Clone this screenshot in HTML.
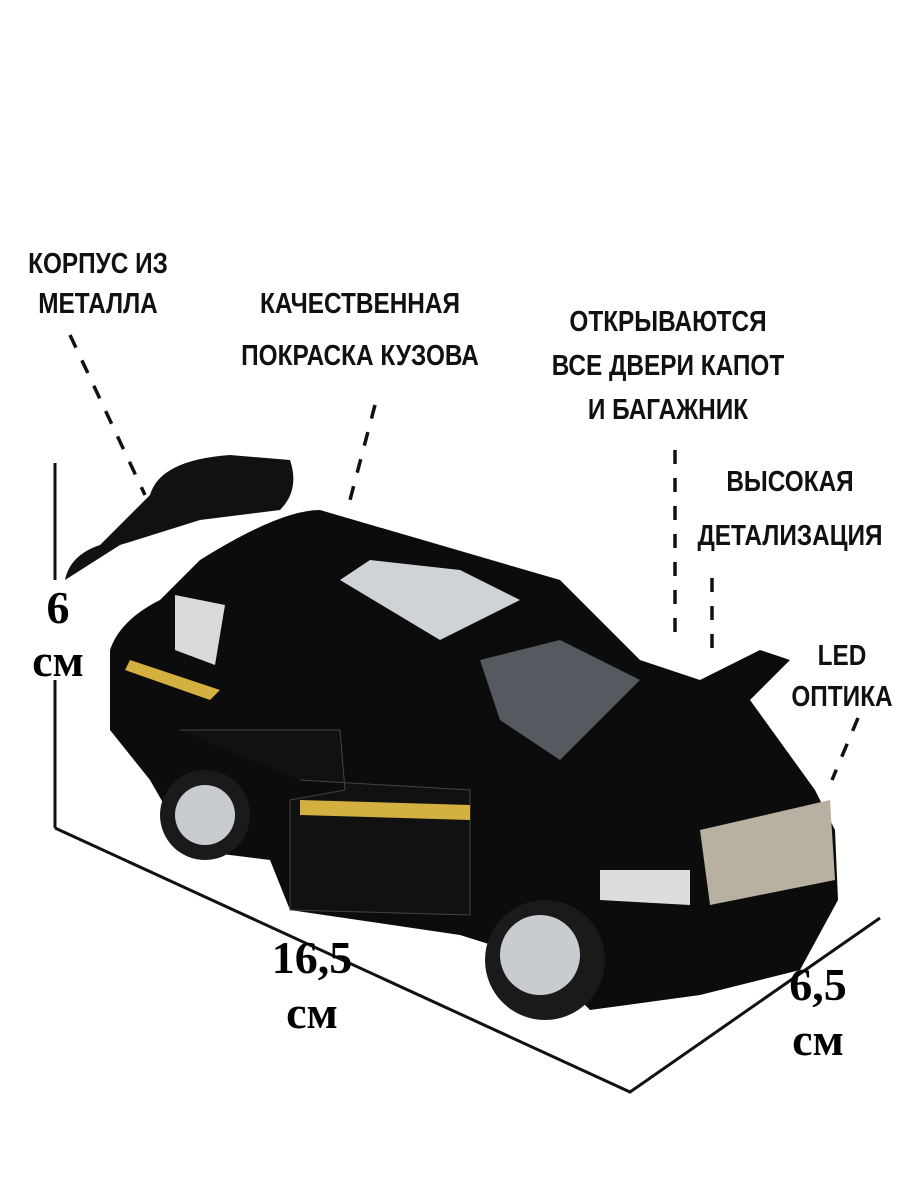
<!DOCTYPE html>
<html><head><meta charset="utf-8"><style>
body{margin:0;background:#fff;width:900px;height:1200px;overflow:hidden;position:relative}
.l{position:absolute;font-family:"Liberation Sans Narrow","Liberation Sans",sans-serif;font-weight:bold;font-size:29px;color:#111;text-align:center;line-height:1;white-space:nowrap;transform:translateX(-50%) scaleX(0.84)}
.d{position:absolute;font-family:"Liberation Serif",serif;font-weight:bold;font-size:46px;color:#000;text-align:center;line-height:1;transform:translateX(-50%)}
</style></head><body>
<svg width="900" height="1200" style="position:absolute;left:0;top:0">
<g stroke="#111" stroke-width="3" fill="none">
<line x1="55" y1="463" x2="55" y2="580"/>
<line x1="55" y1="680" x2="55" y2="828"/>
<polyline points="55,828 630,1092 880,918"/>
</g>
<g stroke="#111" stroke-width="3.5" stroke-dasharray="14,14" fill="none">
<line x1="70" y1="335" x2="145" y2="495"/>
<line x1="375" y1="405" x2="350" y2="500"/>
<line x1="675" y1="450" x2="675" y2="640"/>
<line x1="712" y1="578" x2="712" y2="650"/>
<line x1="858" y1="718" x2="832" y2="780"/>
</g>
<path d="M150,495 Q160,460 230,455 L290,460 Q300,490 280,510 L200,520 L120,545 L65,580 Q70,555 100,545 Z" fill="#111"/>
<path d="M110,650 Q120,620 160,600 L200,560 Q280,510 320,510 L560,580 Q600,620 640,660 L700,680 L760,650 L790,660 L750,700 L815,790 L835,830 L838,900 L800,970 L700,995 L590,1010 L540,960 L460,935 L290,910 L270,860 L190,850 L150,780 L110,730 Z" fill="#0c0c0c"/>
<path d="M340,580 L370,560 L460,570 L520,600 L440,640 Z" fill="#cfd3d8"/>
<path d="M175,595 L225,605 L215,665 L175,650 Z" fill="#d8dadc"/>
<path d="M480,660 L560,640 L640,680 L560,760 L500,720 Z" fill="#555a60"/>
<path d="M180,730 L340,730 L345,790 L290,800 L290,910 L470,915 L470,790 L300,780" fill="#111" stroke="#444"/>
<path d="M130,660 L220,690 L210,700 L125,670 Z" fill="#d4b040"/>
<path d="M300,800 L470,805 L470,820 L300,815 Z" fill="#d4b040"/>
<path d="M700,830 L830,800 L835,880 L710,905 Z" fill="#b8b0a0"/>
<path d="M600,870 L690,870 L690,905 L600,900 Z" fill="#ddd"/>
<circle cx="205" cy="815" r="45" fill="#1a1a1a"/><circle cx="205" cy="815" r="30" fill="#c8ccd0"/>
<circle cx="545" cy="960" r="60" fill="#1a1a1a"/><circle cx="540" cy="955" r="40" fill="#c8ccd0"/>
</svg>
<div class="l" style="left:98px;top:250px">КОРПУС ИЗ</div>
<div class="l" style="left:98px;top:290px">МЕТАЛЛА</div>
<div class="l" style="left:360px;top:290px">КАЧЕСТВЕННАЯ</div>
<div class="l" style="left:360px;top:342px">ПОКРАСКА КУЗОВА</div>
<div class="l" style="left:668px;top:308px">ОТКРЫВАЮТСЯ</div>
<div class="l" style="left:668px;top:352px">ВСЕ ДВЕРИ КАПОТ</div>
<div class="l" style="left:668px;top:396px">И БАГАЖНИК</div>
<div class="l" style="left:790px;top:468px">ВЫСОКАЯ</div>
<div class="l" style="left:790px;top:522px">ДЕТАЛИЗАЦИЯ</div>
<div class="l" style="left:842px;top:642px">LED</div>
<div class="l" style="left:842px;top:683px">ОПТИКА</div>
<div class="d" style="left:58px;top:585px">6</div>
<div class="d" style="left:58px;top:638px">см</div>
<div class="d" style="left:312px;top:935px">16,5</div>
<div class="d" style="left:312px;top:990px">см</div>
<div class="d" style="left:818px;top:962px">6,5</div>
<div class="d" style="left:818px;top:1017px">см</div>
</body></html>
